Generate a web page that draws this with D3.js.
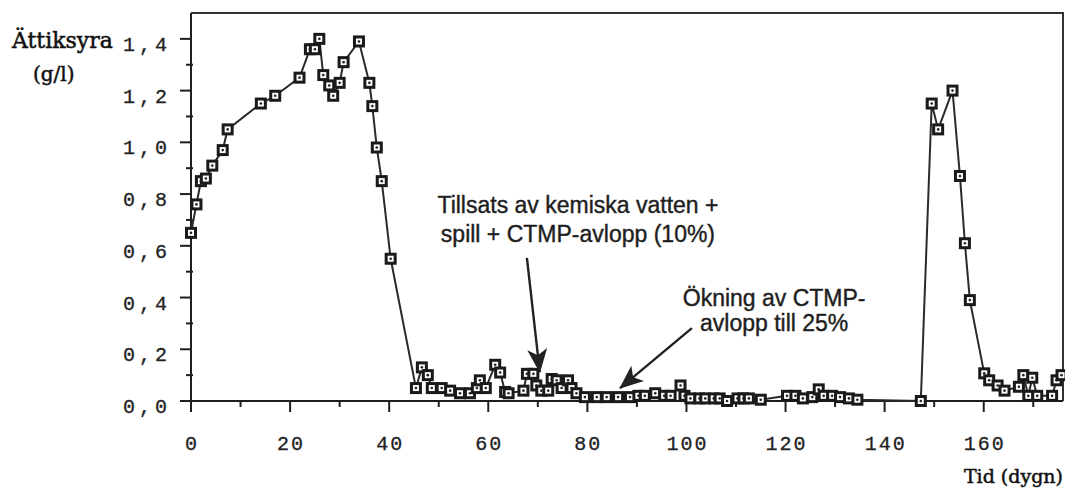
<!DOCTYPE html>
<html>
<head>
<meta charset="utf-8">
<script src="https://cdn.jsdelivr.net/npm/d3@7"></script>
<style>
  body { margin: 0; background: #fff; }
  svg { display: block; }
</style>
</head>
<body>
<svg id="chart" width="1065" height="494"></svg>
<script>
// days (Tid, dygn)
const days = [
  0, 1.1, 2, 3, 4.3, 6.4, 7.4, 14.1, 17, 21.9, 24, 25, 25.9, 26.7, 27.9, 28.7,
  30, 30.8, 33.9, 36, 36.6, 37.5, 38.5, 40.3, 45.4, 46.6, 47.8, 48.6, 50.6,
  52.3, 54.3, 56.3, 57.7, 58.3, 59.5, 61.4, 62.4, 63.4, 64.1, 67.1, 67.8, 69.1,
  69.7, 70.7, 72.1, 72.8, 73.8, 74.8, 76.1, 76.8, 77.8, 79.5, 81.9, 83.9, 86.2,
  88.6, 90.3, 91.6, 93.7, 95.5, 96.8, 98.8, 99.6, 100.8, 102.6, 103.8, 105.5,
  106.7, 108.2, 110.3, 111.5, 112.6, 115, 120.3, 122, 123.5, 125.4, 126.7,
  127.7, 129.4, 131, 132.8, 134.5, 147.3, 149.5, 150.8, 153.7, 155.2, 156.2,
  157.2, 160.1, 161.1, 162.8, 164.2, 167.1, 168, 169, 169.8, 170.8, 173.8,
  174.7, 175.7
];
// acetic acid (Ättiksyra, g/l)
const acid = [
  0.65, 0.76, 0.85, 0.86, 0.91, 0.97, 1.05, 1.15, 1.18, 1.25, 1.36, 1.36, 1.40,
  1.26, 1.22, 1.18, 1.23, 1.31, 1.39, 1.23, 1.14, 0.98, 0.85, 0.55, 0.05, 0.13,
  0.10, 0.05, 0.05, 0.04, 0.03, 0.03, 0.05, 0.08, 0.05, 0.14, 0.11, 0.035, 0.03,
  0.04, 0.105, 0.105, 0.06, 0.04, 0.04, 0.085, 0.08, 0.05, 0.08, 0.05, 0.03,
  0.015, 0.015, 0.015, 0.015, 0.015, 0.02, 0.02, 0.03, 0.02, 0.02, 0.06, 0.02,
  0.01, 0.01, 0.01, 0.01, 0.01, 0.0, 0.01, 0.01, 0.01, 0.005, 0.02, 0.02, 0.01,
  0.015, 0.045, 0.02, 0.02, 0.015, 0.01, 0.005, 0.0, 1.15, 1.05, 1.20, 0.87,
  0.61, 0.39, 0.107, 0.08, 0.06, 0.04, 0.055, 0.10, 0.02, 0.09, 0.02, 0.02,
  0.08, 0.10
];
const yTicks = [0, 0.2, 0.4, 0.6, 0.8, 1.0, 1.2, 1.4];
const xTicks = [0, 20, 40, 60, 80, 100, 120, 140, 160];

// annotations: text lines and arrow (from -> to), in data units
const notes = [
  { lines: ["Tillsats av kemiska vatten +", "spill + CTMP-avlopp (10%)"],
    at: [78.1, 0.727], lineGap: 29, from: [67.8, 0.553], to: [70.4, 0.112] },
  { lines: ["Ökning av CTMP-", "avlopp till 25%"],
    at: [117.7, 0.367], lineGap: 25, from: [101.1, 0.282], to: [86.6, 0.05] }
];

class AcidChart {
  constructor(_config) {
    this.config = {
      parentElement: _config.parentElement,
      left: 191, right: 1063, top: 13, bottom: 401
    };
    this.initVis();
  }

  initVis() {
    let vis = this;
    vis.svg = d3.select(vis.config.parentElement);
    vis.xScale = d3.scaleLinear().domain([0, 176]).range([vis.config.left, vis.config.right]);
    vis.yScale = d3.scaleLinear().domain([0, 1.5]).range([vis.config.bottom, vis.config.top]);
    vis.data = days.map((d, i) => ({ day: d, value: acid[i] }));

    vis.svg.append("defs").append("marker")
      .attr("id", "head")
      .attr("viewBox", "0 0 24 20")
      .attr("refX", 23).attr("refY", 10)
      .attr("markerWidth", 24).attr("markerHeight", 20)
      .attr("markerUnits", "userSpaceOnUse")
      .attr("orient", "auto")
      .append("path")
      .attr("d", "M0,0 L24,10 L0,20 L6,10 Z")
      .attr("fill", "#222");

    vis.render();
  }

  render() {
    let vis = this;
    let c = vis.config;
    let ink = "#1e1e1e";

    // frame
    vis.svg.append("path")
      .attr("d", `M${c.left},${c.top} H${c.right} V${c.bottom}`)
      .attr("fill", "none").attr("stroke", "#333").attr("stroke-width", 2);
    vis.svg.append("line")
      .attr("x1", c.left).attr("x2", c.left).attr("y1", c.top).attr("y2", c.bottom)
      .attr("stroke", ink).attr("stroke-width", 2);
    vis.svg.append("line")
      .attr("x1", c.left - 11).attr("x2", c.right).attr("y1", c.bottom).attr("y2", c.bottom)
      .attr("stroke", ink).attr("stroke-width", 2);

    // y ticks
    let yMinor = d3.range(0.1, 1.5, 0.2);
    vis.svg.selectAll(".ytick").data(yTicks).enter().append("line")
      .attr("x1", c.left - 11).attr("x2", c.left)
      .attr("y1", d => vis.yScale(d)).attr("y2", d => vis.yScale(d))
      .attr("stroke", ink).attr("stroke-width", 2);
    vis.svg.selectAll(".yminor").data(yMinor).enter().append("line")
      .attr("x1", c.left - 5).attr("x2", c.left + 2)
      .attr("y1", d => vis.yScale(d)).attr("y2", d => vis.yScale(d))
      .attr("stroke", ink).attr("stroke-width", 2);
    vis.svg.selectAll(".ylabel").data(yTicks).enter().append("text")
      .attr("x", 171)
      .attr("y", d => vis.yScale(d) + 12)
      .attr("text-anchor", "end")
      .attr("font-family", "Liberation Mono, DejaVu Sans Mono, monospace")
      .attr("font-size", 20)
      .attr("letter-spacing", 4)
      .attr("fill", "#222")
      .attr("stroke", "#222").attr("stroke-width", 0.3)
      .text(d => d3.format(".1f")(d).replace(".", ","));

    // x ticks
    let xMinor = d3.range(10, 176, 20);
    vis.svg.selectAll(".xtick").data(xTicks).enter().append("line")
      .attr("x1", d => vis.xScale(d)).attr("x2", d => vis.xScale(d))
      .attr("y1", c.bottom).attr("y2", c.bottom + 11)
      .attr("stroke", ink).attr("stroke-width", 2);
    vis.svg.selectAll(".xminor").data(xMinor).enter().append("line")
      .attr("x1", d => vis.xScale(d)).attr("x2", d => vis.xScale(d))
      .attr("y1", c.bottom).attr("y2", c.bottom + 6)
      .attr("stroke", ink).attr("stroke-width", 2);
    vis.svg.selectAll(".xlabel").data(xTicks).enter().append("text")
      .attr("x", d => vis.xScale(d) + 1)
      .attr("y", 450)
      .attr("text-anchor", "middle")
      .attr("font-family", "Liberation Mono, DejaVu Sans Mono, monospace")
      .attr("font-size", 20)
      .attr("letter-spacing", 2)
      .attr("fill", "#222")
      .attr("stroke", "#222").attr("stroke-width", 0.3)
      .text(d => d);

    // axis titles
    let serif = "DejaVu Serif, Liberation Serif, serif";
    vis.svg.append("text").attr("x", 12).attr("y", 48)
      .attr("font-family", serif).attr("font-size", 22).attr("fill", "#111")
      .attr("stroke", "#111").attr("stroke-width", 0.5)
      .text("Ättiksyra");
    vis.svg.append("text").attr("x", 33).attr("y", 81)
      .attr("font-family", serif).attr("font-size", 20).attr("fill", "#111")
      .attr("stroke", "#111").attr("stroke-width", 0.5)
      .text("(g/l)");
    vis.svg.append("text").attr("x", c.right).attr("y", 483)
      .attr("text-anchor", "end")
      .attr("font-family", serif).attr("font-size", 19).attr("fill", "#111")
      .attr("stroke", "#111").attr("stroke-width", 0.5)
      .text("Tid (dygn)");

    // series line
    let line = d3.line().x(d => vis.xScale(d.day)).y(d => vis.yScale(d.value));
    vis.svg.append("path").datum(vis.data)
      .attr("d", line)
      .attr("fill", "none").attr("stroke", "#2a2a2a").attr("stroke-width", 2);

    // markers
    let marks = vis.svg.selectAll(".mark").data(vis.data).enter().append("g")
      .attr("class", "mark")
      .attr("transform", d => `translate(${vis.xScale(d.day)},${vis.yScale(d.value)})`);
    marks.append("rect")
      .attr("x", -4.5).attr("y", -4.5).attr("width", 9).attr("height", 9)
      .attr("fill", "#fff").attr("stroke", "#1a1a1a").attr("stroke-width", 3);
    marks.append("circle").attr("r", 1.3).attr("fill", "#222");

    vis.drawNotes();
  }

  drawNotes() {
    let vis = this;
    notes.forEach(n => {
      let t = vis.svg.append("text")
        .attr("text-anchor", "middle")
        .attr("font-family", "Liberation Sans, Arial, sans-serif")
        .attr("font-size", 23)
        .attr("fill", "#1e1e1e")
        .attr("stroke", "#1e1e1e").attr("stroke-width", 0.4);
      n.lines.forEach((l, i) => {
        t.append("tspan")
          .attr("x", vis.xScale(n.at[0]))
          .attr("y", vis.yScale(n.at[1]) + i * n.lineGap)
          .text(l);
      });
      vis.svg.append("line")
        .attr("x1", vis.xScale(n.from[0])).attr("y1", vis.yScale(n.from[1]))
        .attr("x2", vis.xScale(n.to[0])).attr("y2", vis.yScale(n.to[1]))
        .attr("stroke", "#222").attr("stroke-width", 2.4)
        .attr("marker-end", "url(#head)");
    });
  }
}

new AcidChart({ parentElement: "#chart" });
</script>
</body>
</html>
